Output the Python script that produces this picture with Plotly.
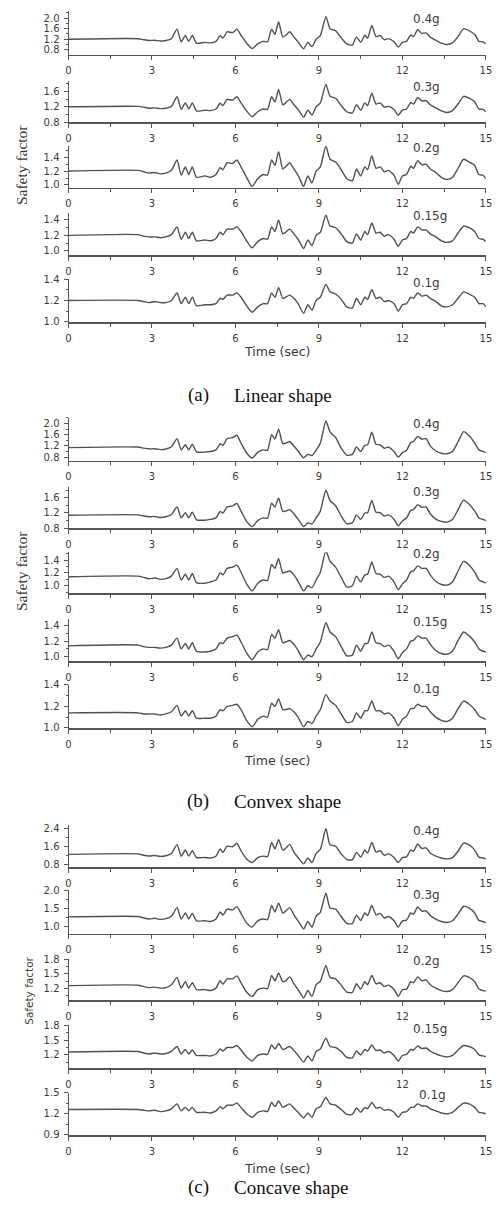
import plotly.graph_objects as go

# ---------------- data ----------------
time_s = [0, 2.5, 2.7, 2.9, 3.1, 3.3, 3.5, 3.7, 3.9, 4.05, 4.2, 4.32, 4.45, 4.6, 4.9, 5.1, 5.3, 5.45, 5.55, 5.7,
          5.9, 6.05, 6.2, 6.4, 6.6, 6.8, 7.0, 7.15, 7.3, 7.42, 7.55, 7.7, 7.8, 7.95, 8.1, 8.25, 8.45, 8.6, 8.75, 8.9,
          9.05, 9.25, 9.4, 9.6, 9.8, 10.0, 10.2, 10.35, 10.5, 10.65, 10.75, 10.9, 11.05, 11.2, 11.35, 11.5, 11.7, 11.85, 12.0, 12.15,
          12.3, 12.4, 12.55, 12.7, 12.85, 13.0, 13.2, 13.4, 13.6, 13.8, 14.0, 14.2, 14.4, 14.6, 14.75, 14.9, 15.0]

pga_labels = ["0.4g", "0.3g", "0.2g", "0.15g", "0.1g"]

# (a) Linear shape
lin_04 = [1.20, 1.22, 1.18, 1.15, 1.16, 1.13, 1.15, 1.22, 1.58, 1.10,
          1.34, 1.12, 1.34, 1.05, 1.08, 1.06, 1.12, 1.33, 1.24, 1.48,
          1.45, 1.58, 1.35, 1.05, 0.85, 1.02, 1.12, 1.10, 1.58, 1.38,
          1.86, 1.28, 1.34, 1.48, 1.28, 1.10, 0.84, 1.08, 0.92, 1.20,
          1.34, 2.05, 1.60, 1.52, 1.25, 1.02, 0.98, 1.28, 1.08, 1.35,
          1.24, 1.72, 1.30, 1.34, 1.18, 1.22, 1.10, 0.90, 1.08, 1.12,
          1.36, 1.30, 1.56, 1.42, 1.44, 1.28, 1.16, 1.05, 1.00, 1.06,
          1.30, 1.60, 1.52, 1.38, 1.12, 1.10, 1.02]
lin_03 = [1.20, 1.21, 1.19, 1.16, 1.17, 1.15, 1.16, 1.21, 1.46, 1.13,
          1.30, 1.14, 1.30, 1.09, 1.11, 1.10, 1.14, 1.29, 1.23, 1.39,
          1.37, 1.46, 1.30, 1.09, 0.94, 1.07, 1.14, 1.13, 1.46, 1.32,
          1.65, 1.25, 1.30, 1.39, 1.25, 1.13, 0.93, 1.11, 0.99, 1.20,
          1.30, 1.78, 1.47, 1.42, 1.23, 1.07, 1.04, 1.25, 1.11, 1.30,
          1.23, 1.55, 1.27, 1.30, 1.19, 1.21, 1.13, 0.98, 1.11, 1.14,
          1.31, 1.27, 1.44, 1.35, 1.36, 1.25, 1.17, 1.09, 1.05, 1.10,
          1.27, 1.47, 1.42, 1.32, 1.14, 1.13, 1.07]
lin_02 = [1.20, 1.21, 1.19, 1.17, 1.18, 1.16, 1.17, 1.21, 1.36, 1.14,
          1.26, 1.15, 1.26, 1.11, 1.13, 1.11, 1.15, 1.25, 1.22, 1.32,
          1.31, 1.36, 1.26, 1.11, 0.98, 1.09, 1.15, 1.14, 1.36, 1.28,
          1.48, 1.23, 1.26, 1.32, 1.23, 1.14, 0.98, 1.13, 1.03, 1.20,
          1.26, 1.56, 1.37, 1.33, 1.22, 1.09, 1.06, 1.23, 1.13, 1.26,
          1.22, 1.42, 1.24, 1.26, 1.19, 1.21, 1.14, 1.01, 1.13, 1.15,
          1.27, 1.24, 1.35, 1.29, 1.30, 1.23, 1.18, 1.11, 1.08, 1.11,
          1.24, 1.37, 1.33, 1.28, 1.15, 1.14, 1.09]
lin_015 = [1.20, 1.21, 1.19, 1.18, 1.18, 1.17, 1.18, 1.21, 1.31, 1.15,
           1.24, 1.16, 1.24, 1.13, 1.14, 1.13, 1.16, 1.24, 1.21, 1.28,
           1.28, 1.31, 1.25, 1.13, 1.04, 1.12, 1.16, 1.15, 1.31, 1.25,
           1.40, 1.22, 1.24, 1.28, 1.22, 1.15, 1.03, 1.14, 1.07, 1.20,
           1.24, 1.46, 1.32, 1.30, 1.22, 1.12, 1.10, 1.22, 1.14, 1.25,
           1.21, 1.36, 1.23, 1.24, 1.19, 1.21, 1.15, 1.06, 1.14, 1.16,
           1.25, 1.23, 1.31, 1.27, 1.27, 1.22, 1.18, 1.13, 1.11, 1.13,
           1.23, 1.32, 1.30, 1.25, 1.16, 1.15, 1.12]
lin_01 = [1.20, 1.20, 1.19, 1.18, 1.19, 1.18, 1.18, 1.20, 1.27, 1.17,
          1.23, 1.17, 1.23, 1.15, 1.16, 1.16, 1.17, 1.22, 1.21, 1.25,
          1.25, 1.27, 1.23, 1.15, 1.09, 1.14, 1.17, 1.17, 1.27, 1.23,
          1.32, 1.22, 1.23, 1.25, 1.22, 1.17, 1.08, 1.16, 1.11, 1.20,
          1.23, 1.35, 1.28, 1.26, 1.21, 1.14, 1.13, 1.22, 1.16, 1.23,
          1.21, 1.30, 1.22, 1.23, 1.19, 1.20, 1.17, 1.10, 1.16, 1.17,
          1.23, 1.22, 1.27, 1.24, 1.25, 1.22, 1.19, 1.15, 1.14, 1.16,
          1.22, 1.28, 1.26, 1.23, 1.17, 1.17, 1.14]

# (b) Convex shape
cvx_04 = [1.14, 1.16, 1.12, 1.09, 1.10, 1.07, 1.09, 1.17, 1.46, 1.06,
          1.24, 1.06, 1.26, 0.99, 0.98, 1.00, 1.06, 1.28, 1.22, 1.46,
          1.50, 1.58, 1.30, 0.95, 0.77, 0.97, 1.06, 1.04, 1.60, 1.45,
          1.80, 1.28, 1.30, 1.36, 1.20, 1.02, 0.78, 0.90, 0.86, 1.05,
          1.30, 2.09, 1.70, 1.50, 1.12, 0.87, 0.90, 1.16, 1.00, 1.22,
          1.24, 1.69, 1.26, 1.24, 1.12, 1.16, 1.00, 0.80, 0.96, 1.05,
          1.32, 1.36, 1.54, 1.44, 1.46, 1.20, 1.02, 0.94, 0.92, 1.00,
          1.35, 1.71, 1.56, 1.30, 1.06, 1.00, 0.97]
cvx_03 = [1.14, 1.15, 1.12, 1.10, 1.11, 1.08, 1.10, 1.16, 1.36, 1.07,
          1.21, 1.07, 1.22, 1.02, 1.01, 1.03, 1.07, 1.24, 1.20, 1.36,
          1.39, 1.45, 1.25, 0.98, 0.84, 1.00, 1.07, 1.06, 1.46, 1.36,
          1.60, 1.24, 1.25, 1.29, 1.18, 1.04, 0.84, 0.94, 0.91, 1.07,
          1.25, 1.80, 1.53, 1.39, 1.12, 0.92, 0.94, 1.15, 1.03, 1.20,
          1.21, 1.53, 1.22, 1.21, 1.12, 1.15, 1.03, 0.86, 0.99, 1.07,
          1.27, 1.29, 1.42, 1.35, 1.36, 1.18, 1.04, 0.98, 0.96, 1.03,
          1.29, 1.54, 1.43, 1.25, 1.07, 1.03, 1.00]
cvx_02 = [1.14, 1.15, 1.13, 1.11, 1.12, 1.10, 1.11, 1.15, 1.27, 1.09,
          1.18, 1.09, 1.19, 1.05, 1.04, 1.06, 1.09, 1.20, 1.17, 1.27,
          1.29, 1.32, 1.21, 1.03, 0.92, 1.04, 1.09, 1.08, 1.33, 1.27,
          1.42, 1.20, 1.21, 1.23, 1.17, 1.07, 0.92, 1.00, 0.97, 1.09,
          1.21, 1.54, 1.38, 1.29, 1.13, 0.98, 1.00, 1.15, 1.06, 1.17,
          1.18, 1.37, 1.19, 1.18, 1.13, 1.15, 1.06, 0.94, 1.03, 1.09,
          1.22, 1.23, 1.31, 1.27, 1.27, 1.17, 1.07, 1.02, 1.01, 1.06,
          1.23, 1.38, 1.32, 1.21, 1.09, 1.06, 1.04]
cvx_015 = [1.14, 1.15, 1.13, 1.12, 1.12, 1.11, 1.12, 1.15, 1.24, 1.10,
           1.17, 1.10, 1.18, 1.07, 1.06, 1.07, 1.10, 1.18, 1.17, 1.24,
           1.26, 1.28, 1.19, 1.05, 0.96, 1.06, 1.10, 1.09, 1.29, 1.24,
           1.35, 1.18, 1.19, 1.21, 1.16, 1.08, 0.96, 1.02, 1.00, 1.10,
           1.19, 1.44, 1.32, 1.26, 1.13, 1.01, 1.02, 1.15, 1.07, 1.17,
           1.17, 1.32, 1.18, 1.17, 1.13, 1.15, 1.07, 0.97, 1.05, 1.10,
           1.20, 1.21, 1.27, 1.24, 1.24, 1.16, 1.08, 1.04, 1.03, 1.07,
           1.21, 1.32, 1.27, 1.19, 1.10, 1.07, 1.06]
cvx_01 = [1.14, 1.14, 1.13, 1.13, 1.13, 1.12, 1.13, 1.15, 1.21, 1.11,
          1.16, 1.11, 1.16, 1.09, 1.09, 1.09, 1.11, 1.17, 1.16, 1.20,
          1.21, 1.22, 1.17, 1.07, 1.01, 1.08, 1.11, 1.10, 1.23, 1.20,
          1.27, 1.17, 1.17, 1.18, 1.15, 1.10, 1.01, 1.06, 1.04, 1.11,
          1.17, 1.31, 1.25, 1.21, 1.13, 1.05, 1.06, 1.14, 1.09, 1.16,
          1.16, 1.25, 1.16, 1.16, 1.13, 1.14, 1.09, 1.02, 1.08, 1.11,
          1.18, 1.18, 1.22, 1.20, 1.20, 1.15, 1.10, 1.07, 1.06, 1.09,
          1.18, 1.25, 1.22, 1.17, 1.11, 1.09, 1.08]

# (c) Concave shape
ccv_04 = [1.26, 1.28, 1.22, 1.19, 1.21, 1.17, 1.20, 1.30, 1.69, 1.18,
          1.45, 1.18, 1.42, 1.12, 1.12, 1.10, 1.18, 1.50, 1.34, 1.62,
          1.60, 1.75, 1.42, 1.05, 0.90, 1.12, 1.18, 1.16, 1.79, 1.50,
          1.91, 1.45, 1.52, 1.70, 1.36, 1.12, 0.84, 1.10, 0.90, 1.30,
          1.48, 2.40, 1.68, 1.62, 1.28, 1.04, 1.02, 1.35, 1.14, 1.45,
          1.32, 1.79, 1.36, 1.42, 1.22, 1.28, 1.12, 0.90, 1.12, 1.15,
          1.45, 1.40, 1.72, 1.52, 1.55, 1.32, 1.18, 1.10, 1.06, 1.12,
          1.40, 1.76, 1.68, 1.45, 1.14, 1.10, 1.05]
ccv_03 = [1.26, 1.27, 1.23, 1.20, 1.22, 1.19, 1.21, 1.28, 1.52, 1.20,
          1.37, 1.20, 1.36, 1.15, 1.15, 1.13, 1.20, 1.40, 1.31, 1.48,
          1.46, 1.55, 1.36, 1.09, 0.97, 1.15, 1.20, 1.18, 1.58, 1.40,
          1.65, 1.37, 1.42, 1.52, 1.32, 1.15, 0.92, 1.13, 0.97, 1.28,
          1.39, 1.93, 1.51, 1.48, 1.27, 1.08, 1.07, 1.31, 1.16, 1.37,
          1.30, 1.58, 1.32, 1.36, 1.23, 1.27, 1.15, 0.97, 1.15, 1.17,
          1.37, 1.34, 1.54, 1.42, 1.43, 1.30, 1.20, 1.13, 1.10, 1.15,
          1.34, 1.56, 1.51, 1.37, 1.16, 1.13, 1.09]
ccv_02 = [1.26, 1.27, 1.24, 1.22, 1.23, 1.21, 1.22, 1.28, 1.43, 1.21,
          1.34, 1.21, 1.32, 1.18, 1.18, 1.16, 1.21, 1.36, 1.29, 1.40,
          1.40, 1.46, 1.32, 1.13, 1.04, 1.18, 1.21, 1.20, 1.47, 1.36,
          1.52, 1.34, 1.36, 1.44, 1.30, 1.18, 1.01, 1.16, 1.04, 1.28,
          1.35, 1.67, 1.43, 1.40, 1.27, 1.13, 1.12, 1.30, 1.19, 1.34,
          1.28, 1.47, 1.30, 1.32, 1.24, 1.27, 1.18, 1.04, 1.18, 1.19,
          1.34, 1.32, 1.44, 1.36, 1.38, 1.28, 1.21, 1.16, 1.14, 1.18,
          1.32, 1.46, 1.43, 1.34, 1.19, 1.16, 1.15]
ccv_015 = [1.26, 1.27, 1.24, 1.22, 1.24, 1.22, 1.23, 1.27, 1.37, 1.22,
           1.31, 1.22, 1.30, 1.19, 1.19, 1.18, 1.22, 1.32, 1.28, 1.35,
           1.35, 1.39, 1.30, 1.16, 1.08, 1.19, 1.22, 1.21, 1.40, 1.32,
           1.43, 1.31, 1.33, 1.37, 1.29, 1.19, 1.06, 1.18, 1.08, 1.27,
           1.32, 1.54, 1.37, 1.35, 1.27, 1.15, 1.14, 1.28, 1.20, 1.31,
           1.28, 1.40, 1.29, 1.30, 1.24, 1.27, 1.19, 1.08, 1.19, 1.21,
           1.31, 1.30, 1.38, 1.33, 1.34, 1.28, 1.22, 1.18, 1.16, 1.19,
           1.30, 1.39, 1.37, 1.31, 1.20, 1.18, 1.16]
ccv_01 = [1.26, 1.26, 1.25, 1.24, 1.25, 1.23, 1.24, 1.27, 1.34, 1.24,
          1.29, 1.24, 1.29, 1.22, 1.22, 1.21, 1.24, 1.30, 1.27, 1.32,
          1.32, 1.35, 1.29, 1.20, 1.15, 1.22, 1.24, 1.23, 1.36, 1.30,
          1.38, 1.29, 1.31, 1.34, 1.28, 1.22, 1.14, 1.21, 1.15, 1.27,
          1.30, 1.43, 1.34, 1.32, 1.26, 1.19, 1.19, 1.28, 1.22, 1.29,
          1.27, 1.36, 1.28, 1.29, 1.25, 1.26, 1.22, 1.15, 1.22, 1.23,
          1.29, 1.29, 1.34, 1.31, 1.31, 1.27, 1.24, 1.21, 1.20, 1.22,
          1.29, 1.35, 1.34, 1.29, 1.22, 1.21, 1.20]

x_ticks = [0, 3, 6, 9, 12, 15]

# y tick labels per sub-plot (major), panel by panel
y_ticks = [
    [[0.8, 1.2, 1.6, 2.0], [0.8, 1.2, 1.6], [1.0, 1.2, 1.4], [1.0, 1.2, 1.4], [1.0, 1.2, 1.4]],
    [[0.8, 1.2, 1.6, 2.0], [0.8, 1.2, 1.6], [1.0, 1.2, 1.4], [1.0, 1.2, 1.4], [1.0, 1.2, 1.4]],
    [[0.8, 1.6, 2.4], [1.0, 1.5, 2.0], [1.2, 1.5, 1.8], [1.2, 1.5, 1.8], [0.9, 1.2, 1.5]],
]

panel_tags = ["(a)", "(b)", "(c)"]
panel_names = ["Linear shape", "Convex shape", "Concave shape"]
series = [
    [lin_04, lin_03, lin_02, lin_015, lin_01],
    [cvx_04, cvx_03, cvx_02, cvx_015, cvx_01],
    [ccv_04, ccv_03, ccv_02, ccv_015, ccv_01],
]

# ---------------- layout / style ----------------
W, H = 502, 1227
X0, X1 = 66.7, 491.7
LINE = "#505050"
AX = "#555555"
TXT = "#3a3a3a"
SANS = "DejaVu Sans, Verdana, sans-serif"
SERIF = "Liberation Serif, Times New Roman, serif"

# (top px, bottom px, ymin, ymax) for each sub-plot
boxes = [
    [(5, 49, 0.62, 2.27), (76, 117.3, 0.8, 1.86), (141.7, 183.3, 0.963, 1.557), (209, 251.7, 0.944, 1.489), (275.7, 319, 1.0, 1.4)],
    [(415.7, 459, 0.68, 2.21), (486, 527.3, 0.8, 1.88), (551.7, 593.3, 0.88, 1.52), (619, 661.7, 0.94, 1.49), (685.7, 729, 1.0, 1.4)],
    [(826.7, 870, 0.68, 2.575), (892.7, 936.7, 0.79, 2.02), (962.7, 1004, 0.963, 1.8), (1029.3, 1072.3, 0.94, 1.8), (1097.3, 1140, 0.9, 1.5)],
]
label_pos = [
    [(431, 13), (431, 82), (431, 143), (435, 212), (431, 280)],
    [(431, 422), (431, 491), (431, 553), (435, 622), (431, 690)],
    [(431, 833), (431, 898), (431, 964), (435, 1033), (437, 1100)],
]
time_y = [349, 762, 1174]
caption_y = [393, 803, 1193]
ylab = [(19, 161, SERIF, 15.5), (19, 571, SERIF, 15.5), (27, 995, SANS, 10.5)]


def px(x):
    return x / W


def py(y):
    return 1 - y / H


fig = go.Figure()
annotations = []
k = 0
for p in range(3):
    for s in range(5):
        k += 1
        top, bot, ymin, ymax = boxes[p][s]
        suf = "" if k == 1 else str(k)
        fig.add_trace(go.Scatter(
            x=time_s, y=series[p][s], mode="lines", xaxis="x" + suf, yaxis="y" + suf,
            line=dict(color=LINE, width=1.4, shape="spline", smoothing=0.6),
            showlegend=False, hoverinfo="skip"))
        majors = y_ticks[p][s]
        step = (majors[1] - majors[0]) / 2
        minors = []
        v = majors[0] - 4 * step
        while v <= ymax + 1e-9:
            if v >= ymin - 1e-9:
                minors.append(round(v, 4))
            v += step
        fig.layout["xaxis" + suf] = dict(
            domain=[px(X0), px(X1)], anchor="y" + suf, range=[0, 15],
            tickvals=x_ticks, ticktext=[str(t) for t in x_ticks],
            ticks="outside", ticklen=4, tickwidth=1, tickcolor=AX,
            minor=dict(tickvals=[1.5, 4.5, 7.5, 10.5, 13.5], ticks="outside", ticklen=3, tickcolor=AX),
            showline=True, linecolor=AX, linewidth=1.8, showgrid=False, zeroline=False,
            tickfont=dict(family=SANS, size=10, color=TXT), ticklabelstandoff=2,
            ticklabeloverflow="allow", fixedrange=True)
        fig.layout["yaxis" + suf] = dict(
            domain=[py(bot), py(top)], anchor="x" + suf, range=[ymin, ymax],
            tickvals=majors, ticktext=[f"{t:.1f}" for t in majors],
            ticks="outside", ticklen=4, tickwidth=1, tickcolor=AX,
            minor=dict(tickvals=minors, ticks="outside", ticklen=2, tickcolor=AX),
            showline=True, linecolor=AX, linewidth=1, showgrid=False, zeroline=False,
            tickfont=dict(family=SANS, size=10, color=TXT), ticklabelstandoff=2, fixedrange=True)
        lx, ly = label_pos[p][s]
        annotations.append(dict(x=px(lx), y=py(ly), xref="paper", yref="paper", text=pga_labels[s],
                                showarrow=False, xanchor="center", yanchor="middle",
                                font=dict(family=SANS, size=12, color=TXT)))
    annotations.append(dict(x=px((X0 + X1) / 2), y=py(time_y[p]), xref="paper", yref="paper",
                            text="Time (sec)", showarrow=False, xanchor="center", yanchor="middle",
                            font=dict(family=SANS, size=12.5, color=TXT)))
    annotations.append(dict(x=px(212), y=py(caption_y[p]), xref="paper", yref="paper",
                            text=panel_tags[p], showarrow=False, xanchor="right", yanchor="middle",
                            font=dict(family=SERIF, size=19, color="#111111")))
    annotations.append(dict(x=px(233), y=py(caption_y[p]), xref="paper", yref="paper",
                            text=panel_names[p], showarrow=False, xanchor="left", yanchor="middle",
                            font=dict(family=SERIF, size=19, color="#111111")))
    yx, yy, yf, ys = ylab[p]
    annotations.append(dict(x=px(yx), y=py(yy), xref="paper", yref="paper", text="Safety factor",
                            showarrow=False, textangle=-90, xanchor="center", yanchor="middle",
                            font=dict(family=yf, size=ys, color=TXT)))

fig.update_layout(width=W, height=H, margin=dict(l=0, r=0, t=0, b=0),
                  paper_bgcolor="white", plot_bgcolor="white", annotations=annotations,
                  showlegend=False)
fig.write_html("out.html", config={"displayModeBar": False, "staticPlot": True},
               post_script="document.body.style.margin='0px';")
